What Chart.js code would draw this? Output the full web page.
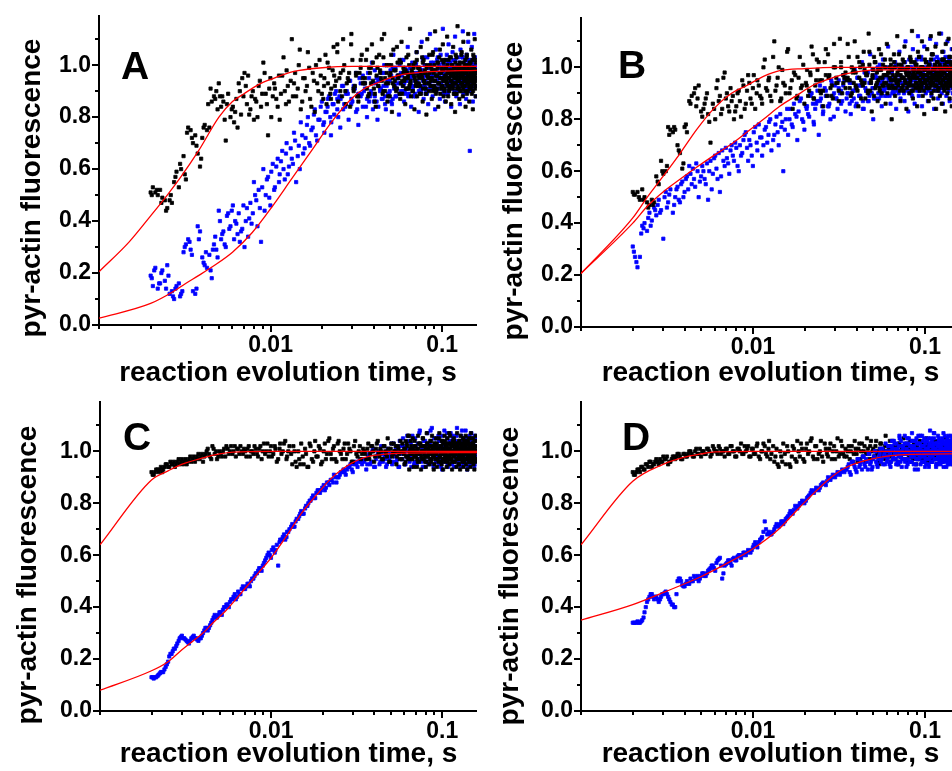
<!DOCTYPE html>
<html><head><meta charset="utf-8">
<script src="https://cdn.jsdelivr.net/npm/chart.js@4.4.1/dist/chart.umd.min.js"></script>
<style>
html,body{margin:0;padding:0;background:#fff;}
#wrap{position:relative;width:952px;height:771px;overflow:hidden;background:#fff;}
#wrap canvas{position:absolute;}
</style></head><body>
<div id="wrap">
<canvas id="cA" width="480" height="390" style="left:0;top:0"></canvas>
<canvas id="cB" width="483" height="390" style="left:480px;top:0"></canvas>
<canvas id="cC" width="480" height="386" style="left:0;top:385px"></canvas>
<canvas id="cD" width="483" height="386" style="left:480px;top:385px"></canvas>
</div>
<script>
// ---------- axis ticks ----------
const xTickValues = [0.001,0.002,0.003,0.004,0.005,0.006,0.007,0.008,0.009,0.01,0.02,0.03,0.04,0.05,0.06,0.07,0.08,0.09,0.1];
const xMajorValues = [0.01,0.1];
const xTickLabels = ['0.01','0.1'];
const yTickValues = [0,0.1,0.2,0.3,0.4,0.5,0.6,0.7,0.8,0.9,1.0,1.1];
const yMajorValues = [0,0.2,0.4,0.6,0.8,1.0];
const yTickLabels = ['0.0','0.2','0.4','0.6','0.8','1.0'];
const xTitle = 'reaction evolution time, s';
const yTitle = 'pyr-actin fluorescence';
const panelLetters = ['A','B','C','D'];

// ---------- shared reaction times (s) ----------
const tEarly = [0.002,0.00206,0.00213,0.0022,0.00227,0.00234,0.00242,0.0025,0.00258,0.00266,
0.00274,0.00283,0.00292,0.00301,0.00311,0.00321,0.00331,0.00342,0.00353,0.00364,
0.00376,0.00388,0.004,0.00413,0.00426,0.0044,0.00454,0.00468,0.00483,0.00499,
0.00515,0.00531,0.00548,0.00566,0.00584,0.00603,0.00622,0.00642,0.00662,0.00684,
0.00705,0.00728,0.00751,0.00775,0.008,0.00826,0.00852,0.0088,0.00908,0.00937,
0.00967,0.00998,0.0103,0.0106,0.011,0.0113,0.0117,0.0121,0.0124,0.0128,
0.0133,0.0137,0.0141,0.0146,0.015,0.0155,0.016,0.0165,0.017,0.0176,
0.0181,0.0187,0.0193,0.0199,0.0206,0.0212,0.0219,0.0226,0.0233,0.0241,
0.0248,0.0256,0.0265,0.0273,0.0282,0.0291,0.03,0.031,0.032,0.033,
0.034];
const tMid = [0.00203,0.0021,0.00217,0.00224,0.00231,0.00238,0.00246,0.00254,0.00262,0.0027,
0.00279,0.00288,0.00297,0.00306,0.00316,0.00326,0.00337,0.00348,0.00359,0.0037,
0.00382,0.00394,0.00407,0.0042,0.00433,0.00447,0.00461,0.00476,0.00491,0.00507,
0.00523,0.0054,0.00557,0.00575,0.00594,0.00613,0.00632,0.00652,0.00673,0.00695,
0.00717,0.0074,0.00763,0.00788,0.00813,0.00839,0.00866,0.00894,0.00923,0.00952,
0.00983,0.0101,0.0105,0.0108,0.0112,0.0115,0.0119,0.0123,0.0126,0.0131,
0.0135,0.0139,0.0144,0.0148,0.0153,0.0158,0.0163,0.0168,0.0173,0.0179,
0.0184,0.019,0.0196,0.0203,0.0209,0.0216,0.0223,0.023,0.0237,0.0245,
0.0252,0.0261,0.0269,0.0278,0.0287,0.0296,0.0305,0.0315,0.0325,0.0335,
0.0345];
const tDense = [0.0205,0.0215,0.0225,0.0235,0.0245,0.0255,0.0265,0.0275,0.0285,0.0295,
0.0305,0.0315,0.0325,0.0335,0.0345,0.0355,0.0365,0.0375,0.0385,0.0395,
0.0405,0.0415,0.0425,0.0435,0.0445,0.0455,0.0465,0.0475,0.0485,0.0495,
0.0505,0.0515,0.0525,0.0535,0.0545,0.0555,0.0565,0.0575,0.0585,0.0595];
const tLate = [0.035,0.036,0.037,0.038,0.039,0.040,0.041,0.042,0.043,0.044,
0.045,0.046,0.047,0.048,0.049,0.050,0.051,0.052,0.053,0.054,
0.055,0.056,0.057,0.058,0.059,0.060,0.061,0.062,0.063,0.064,
0.065,0.066,0.067,0.068,0.069,0.070,0.071,0.072,0.073,0.074,
0.075,0.076,0.077,0.078,0.079,0.080,0.081,0.082,0.083,0.084,
0.085,0.086,0.087,0.088,0.089,0.090,0.091,0.092,0.093,0.094,
0.095,0.096,0.097,0.098,0.099,0.100,0.101,0.102,0.103,0.104,
0.105,0.106,0.107,0.108,0.109,0.110,0.111,0.112,0.113,0.114,
0.115,0.116,0.117,0.118,0.119,0.120,0.121,0.122,0.123,0.124,
0.125,0.126,0.127,0.128,0.129,0.130,0.131,0.132,0.133,0.134,
0.135,0.136,0.137,0.138,0.139,0.140,0.141,0.142,0.143,0.144,
0.145,0.146,0.147,0.148,0.149,0.150,0.151,0.152,0.153,0.154,
0.155,0.156,0.157,0.158];
const tLateB = [0.0355,0.0365,0.0375,0.0385,0.0395,0.0405,0.0415,0.0425,0.0435,0.0445,
0.0455,0.0465,0.0475,0.0485,0.0495,0.0505,0.0515,0.0525,0.0535,0.0545,
0.0555,0.0565,0.0575,0.0585,0.0595,0.0605,0.0615,0.0625,0.0635,0.0645,
0.0655,0.0665,0.0675,0.0685,0.0695,0.0705,0.0715,0.0725,0.0735,0.0745,
0.0755,0.0765,0.0775,0.0785,0.0795,0.0805,0.0815,0.0825,0.0835,0.0845,
0.0855,0.0865,0.0875,0.0885,0.0895,0.0905,0.0915,0.0925,0.0935,0.0945,
0.0955,0.0965,0.0975,0.0985,0.0995,0.1005,0.1015,0.1025,0.1035,0.1045,
0.1055,0.1065,0.1075,0.1085,0.1095,0.1105,0.1115,0.1125,0.1135,0.1145,
0.1155,0.1165,0.1175,0.1185,0.1195,0.1205,0.1215,0.1225,0.1235,0.1245,
0.1255,0.1265,0.1275,0.1285,0.1295,0.1305,0.1315,0.1325,0.1335,0.1345,
0.1355,0.1365,0.1375,0.1385,0.1395,0.1405,0.1415,0.1425,0.1435,0.1445,
0.1455,0.1465,0.1475,0.1485,0.1495,0.1505,0.1515,0.1525,0.1535,0.1545,
0.1555,0.1565,0.1575];
const tLateC = [0.0602,0.0612,0.0622,0.0632,0.0642,0.0652,0.0662,0.0672,0.0682,0.0692,
0.0702,0.0712,0.0722,0.0732,0.0742,0.0752,0.0762,0.0772,0.0782,0.0792,
0.0802,0.0812,0.0822,0.0832,0.0842,0.0852,0.0862,0.0872,0.0882,0.0892,
0.0902,0.0912,0.0922,0.0932,0.0942,0.0952,0.0962,0.0972,0.0982,0.0992,
0.1002,0.1012,0.1022,0.1032,0.1042,0.1052,0.1062,0.1072,0.1082,0.1092,
0.1102,0.1112,0.1122,0.1132,0.1142,0.1152,0.1162,0.1172,0.1182,0.1192,
0.1202,0.1212,0.1222,0.1232,0.1242,0.1252,0.1262,0.1272,0.1282,0.1292,
0.1302,0.1312,0.1322,0.1332,0.1342,0.1352,0.1362,0.1372,0.1382,0.1392,
0.1402,0.1412,0.1422,0.1432,0.1442,0.1452,0.1462,0.1472,0.1482,0.1492,
0.1502,0.1512,0.1522,0.1532,0.1542,0.1552,0.1562,0.1572,0.1582,0.1592];

// ---------- panel A ----------
const aBlackEarly = [.51,.53,.51,.50,.52,.49,.48,.45,.48,.47,
.55,.59,.53,.60,.65,.56,.76,.75,.70,.73,
.66,.61,.72,.77,.75,.76,.86,.88,.90,.93,
.84,.86,.71,.89,.80,.84,.82,.76,.90,.95,
.97,.85,.81,.88,.79,.86,.92,.84,1.01,.89,
.73,.95,.88,.91,.84,.79,.96,.90,.98,.86,
1.10,.93,.88,1.0,.83,.95,.90,1.05,.87,.97,
.82,.93,1.02,.89,.95,.85,.99,.91,1.07,.94,
.86,.97,1.1,.90,.95,.84,1.02,.92,.88,.97,
1.04];
const aBlackMid = [.50,null,.52,null,.47,null,.44,null,.50,null,
.57,null,.62,null,.58,.74,null,.72,null,.69,
null,.64,.76,null,.85,.91,null,.87,.83,.88,
.88,.79,.85,null,.83,.78,.87,.93,.81,.88,
.92,.96,.83,.90,.87,.80,.94,.89,.97,.85,
.91,.80,.93,.87,.96,.89,1.03,.85,.92,.94,
.88,.97,.91,1.06,.86,.95,.92,.99,.84,.94,
1.0,.90,.96,.87,1.04,.93,.89,.98,.92,1.08,
.95,.88,1.0,.93,.97,1.12,.90,.96,.86,.99,
.93];
const aBlackDense = [.92,1.01,.87,.96,1.05,.90,.98,.85,.94,1.08,
.91,.97,.88,1.02,.95,.93,1.06,.89,.99,.94,
.86,1.03,.92,.97,1.1,.90,.95,1.0,.88,.96,
1.04,.93,.98,.91,1.07,.95,.89,1.01,.94,.97];
const aBlueEarly = [.19,.15,.22,.14,.16,.21,.17,.23,.12,.13,
.10,.15,.16,.12,.28,.31,.33,.29,.13,.12,
.38,.36,.26,.23,.22,.27,.18,.31,.29,.44,
.33,.36,.30,.43,.38,.46,.40,.35,.32,.37,
.30,.45,.41,.39,.55,.48,.52,.32,.60,.50,
.57,.46,.62,.53,.64,.58,.67,.56,.70,.61,
.64,.74,.55,.69,.78,.66,.72,.80,.69,.76,
.83,.71,.79,.86,.74,.82,.88,.78,.85,.90,
.80,.87,.92,.84,.89,.94,.86,.91,.83,.95,
.89];
const aBlueMid = [.18,.21,null,.16,.20,null,.14,.19,null,.11,
.14,null,.11,.13,.30,null,.32,.27,null,.14,
.33,null,.24,.28,null,.21,.29,.34,.26,.40,
.35,.31,.42,.37,.44,.33,.39,.43,.36,.46,
.40,.34,.47,.43,.50,.38,.45,.53,.44,.56,
.49,.59,.52,.61,.55,.63,.60,.66,.58,.68,
.62,.71,.65,.60,.73,.68,.77,.70,.75,.81,
.73,.79,.84,.77,.82,.87,.80,.85,.89,.83,
.88,.92,.85,.90,.94,.87,.92,.97,.89,.93,
.96];
const aBlueDense = [.78,.84,.73,.81,.87,.76,.83,.89,.79,.85,
.91,.82,.77,.88,.84,.93,.80,.86,.90,.83,
.88,.95,.84,.91,.87,.97,.85,.92,.89,.94,
.86,.99,.91,.88,.95,.93,1.0,.90,.96,.92];
const aBlackLate = [.93,1.02,.88,.97,1.08,.91,.84,.99,1.04,.95,
.89,1.12,.93,.86,1.0,.97,.82,1.06,.94,.90,
1.01,.96,.87,1.09,.92,.98,.85,1.03,.95,.91,
1.14,.88,.97,1.0,.83,.94,1.05,.92,.99,.89,
1.07,.96,.86,1.02,.93,.97,.81,1.1,.95,.90,
1.0,.94,.87,1.04,.98,.92,1.13,.89,.96,1.01,
.84,.93,1.06,.97,.91,.99,1.08,.88,.95,1.02,
.86,.94,1.11,.92,.98,.9,1.03,.96,.85,1.0,
.93,1.07,.89,.97,.82,1.04,.95,.91,1.15,.94,
.99,.87,1.01,.96,.9,1.05,.93,.88,1.09,.97,
.92,1.0,.84,.95,1.03,.98,.9,1.12,.94,.86,
1.01,.96,.92,1.06,.89,.99,.83,1.04,.95,.97,
1.1,.91,.88,1.02];
const aBlackLateB = [.95,.91,.99,.93,1.01,.89,.96,.92,.98,.94,
1.03,.90,.97,.93,.88,1.0,.95,.92,.98,.91,
.96,1.02,.93,.89,.99,.95,.91,.97,1.04,.92,
.94,.98,.90,.96,1.01,.93,.88,.99,.95,.92,
.97,1.03,.91,.94,.98,.89,1.0,.96,.93,.97,
.92,.99,.95,1.05,.91,.94,.98,.90,.96,1.01,
.93,.97,.89,.95,1.02,.92,.98,.94,.91,.99,
.96,.93,1.0,.88,.95,.97,.92,1.03,.94,.98,
.91,.96,.99,.93,1.01,.95,.89,.97,.92,1.0,
.94,.98,.90,.96,1.04,.93,.97,.91,.95,.99,
.92,1.02,.94,.97,.89,.96,1.0,.93,.98,.91,
.95,1.01,.92,.97,.94,.99,.90,.96,1.03,.93,
.98,.94,.96];
const aBlackLateC = [.94,.98,.91,.96,1.0,.93,.97,.90,.99,.95,
.92,1.02,.96,.93,.98,.89,.95,1.01,.94,.97,
.91,.99,.96,.93,1.04,.95,.92,.98,.90,.97,
1.0,.94,.96,.91,.99,.93,1.03,.95,.97,.92,
.98,.94,1.01,.90,.96,.99,.93,.97,.95,1.02,
.91,.98,.94,.96,1.0,.92,.97,.95,.89,.99,
.93,1.03,.96,.94,.98,.91,1.0,.95,.97,.93,
.99,.92,.96,1.01,.94,.98,.90,.97,.95,1.04,
.93,.99,.96,.92,1.0,.94,.97,.91,.98,.95,
1.02,.93,.96,.99,.94,.97,.92,1.01,.95,.98];
const aBlueLate = [.90,.84,.97,.88,1.01,.86,.93,.79,.95,.91,
.87,1.0,.83,.94,.89,.98,.85,1.04,.92,.88,
.96,.81,.93,1.02,.90,.86,.99,.94,1.07,.89,
.95,.84,1.01,.92,.97,.88,1.05,.93,.82,.99,
.91,1.09,.95,.87,1.0,.94,.9,1.03,.85,.97,
1.12,.92,.96,.88,1.01,.94,.83,1.06,.98,.91,
.95,1.0,.87,1.04,.93,.97,1.14,.9,.96,.86,
1.02,.94,.99,.89,1.08,.95,.92,1.01,.84,.97,
1.05,.93,.98,.9,1.11,.96,.88,1.0,.94,1.03,
.91,.97,.85,1.06,.95,.99,.92,1.13,.89,.96,
1.01,.93,.98,.87,1.04,.95,.91,1.09,.97,.94,
.67,1.02,.9,.98,1.07,.93,.86,1.0,.96,1.12,
.92,.99,.88,1.03];
const aBlueLateB = [.91,.87,.95,.89,.93,.98,.86,.94,.90,.97,
.92,.88,1.0,.94,.90,.96,.87,.93,.99,.91,
.95,.89,.97,.93,1.02,.90,.94,.98,.88,.96,
.93,.99,.91,.95,.89,1.01,.94,.97,.92,.96,
.90,.98,.94,1.03,.92,.96,.89,.99,.95,.93,
.97,.91,1.0,.94,.98,.92,.96,.90,1.02,.95,
.93,.99,.91,.97,.95,1.01,.89,.96,.94,.98,
.92,1.04,.95,.90,.97,.93,.99,.96,.91,1.0,
.94,.98,.92,.96,1.02,.93,.97,.90,.99,.95,
.91,1.01,.96,.94,.98,.92,1.03,.95,.97,.93,
.99,.91,.96,1.0,.94,.98,.92,1.02,.95,.97,
.93,.99,.96,.91,1.01,.94,.98,.95,1.03,.92,
.97,.95,.99];
const aBlueLateC = [.93,.89,.97,.91,.95,.99,.92,.96,.88,.94,
1.0,.93,.97,.90,.95,.98,.92,1.02,.94,.96,
.89,.97,.93,.99,.91,.95,1.01,.94,.97,.92,
.96,.90,.98,.94,1.03,.93,.96,.91,.99,.95,
.92,.97,1.0,.94,.89,.96,.98,.93,1.01,.95,
.91,.97,.94,.99,.92,.96,1.02,.93,.98,.90,
.95,.99,.94,.97,.91,1.0,.96,.93,.98,.95,
.92,1.03,.97,.94,.99,.91,.96,1.0,.93,.97,
.95,.92,.98,1.01,.94,.96,.90,.99,.95,.97,
.93,1.02,.96,.94,.98,.92,1.0,.95,.97,.99];
const aFitBlack = [[0.001,.205],[0.0015,.32],[0.002,.42],[0.0025,.50],[0.003,.57],[0.0038,.67],[0.005,.80],[0.006,.86],[0.007,.89],[0.0085,.925],[0.01,.945],[0.0135,.975],[0.02,.99],[0.03,.995],[0.16,.995]];
const aFitBlue = [[0.001,.026],[0.002,.083],[0.0027,.128],[0.0032,.16],[0.0038,.19],[0.0046,.225],[0.006,.28],[0.0078,.355],[0.0102,.455],[0.0132,.56],[0.0173,.67],[0.0226,.78],[0.0295,.87],[0.0353,.91],[0.045,.94],[0.055,.96],[0.085,.975],[0.16,.98]];

// ---------- panel B ----------
const bBlackEarly = [.52,.51,.52,.49,.53,.50,.48,.47,.49,.48,
.58,.55,.64,.59,.60,.77,.76,.75,.76,.70,
.67,.61,.77,.75,.87,.89,.90,.85,.93,.83,
.84,.88,.82,.71,.86,.80,.95,.89,.84,.98,
.90,.83,.87,.80,.85,.91,.81,.93,.86,.97,
.88,.92,.84,.95,.89,.86,1.03,.91,.96,.87,
1.10,.93,1.0,.88,.94,.90,1.07,.92,.84,.97,
.89,1.04,.93,.86,.99,.91,1.08,.88,.95,1.02,
.90,.85,.97,1.05,.92,.88,1.0,.94,1.11,.90,
.96];
const bBlackMid = [.51,null,.50,null,.49,null,.46,null,.47,null,
.56,null,.60,null,.62,.74,null,.77,null,.68,
null,.63,.78,null,.86,null,.92,.88,null,.81,
.86,.90,.79,null,.84,.92,.87,.82,.96,.88,
.85,.92,.89,.83,.90,.87,.95,.84,.91,.94,
.86,.97,.90,.93,.88,1.0,.92,.95,.89,1.04,
.91,.96,.87,.99,.93,1.06,.90,.95,.98,.88,
.96,.92,1.01,.94,.89,.97,1.05,.93,.99,.91,
.95,1.02,.89,.97,.93,1.09,.96,.91,1.0,.94,
.98];
const bBlackDense = [.93,.98,.88,1.03,.95,.91,1.07,.96,.89,1.0,
.94,.87,1.02,.97,.92,1.09,.95,.90,.99,.93,
1.04,.96,.88,1.01,.94,.98,.91,1.06,.95,.97,
.89,1.02,.94,.99,.92,1.05,.96,.93,1.0,.97];
const bBlueEarly = [.31,.27,.23,.27,.39,.40,.37,.44,.41,.46,
.43,.49,.45,.34,.52,.48,.53,.44,.50,.54,
.48,.56,.52,.58,.62,.55,.57,.63,.50,.58,
.60,.55,.49,.64,.59,.66,.57,.52,.68,.62,
.65,.59,.70,.64,.69,.60,.66,.72,.75,.64,
.70,.62,.77,.68,.73,.66,.76,.71,.79,.68,
.74,.81,.70,.77,.60,.80,.74,.84,.77,.82,
.72,.87,.80,.76,.85,.81,.90,.78,.86,.74,
.88,.83,.91,.85,.80,.89,.93,.84,.90,.87,
.95];
const bBlueMid = [.29,.25,null,.36,.38,null,.42,.39,null,.45,
.47,.44,null,.50,.46,.51,null,.47,.53,.49,
.55,.50,.57,.53,.59,.61,.54,.60,.56,.62,
.57,.63,.60,.53,.65,.61,.67,.58,.64,.69,
.63,.68,.66,.71,.62,.70,.67,.74,.69,.72,
.66,.75,.71,.78,.73,.70,.77,.74,.80,.72,
.78,.75,.82,.79,.76,.84,.80,.78,.86,.81,
.83,.88,.79,.85,.82,.89,.86,.84,.91,.87,
.85,.92,.89,.86,.94,.90,.88,.95,.91,.93,
.96];
const bBlueDense = [.84,.90,.79,.87,.93,.82,.89,.85,.95,.81,
.88,.92,.86,.97,.83,.90,.94,.87,.91,.85,
.96,.89,.93,.84,.98,.91,.87,.94,.90,.99,
.92,.88,.96,.93,1.01,.89,.95,.92,.97,.94];
const bBlackLate = [.95,1.04,.89,.98,1.1,.92,.85,1.0,.94,1.06,
.88,.97,1.13,.91,.83,.99,1.02,.93,.87,1.07,
.96,.9,1.01,.94,.86,1.09,.98,.92,1.03,.8,
.97,1.05,.89,.95,1.12,.93,.99,.87,1.01,.96,
.91,1.08,.94,.84,1.0,.97,.9,1.04,.93,1.14,
.88,.98,1.02,.92,.96,.85,1.06,.99,.91,1.0,
.94,1.1,.89,.97,.82,1.03,.95,.92,1.07,.98,
.87,1.01,.94,1.12,.9,.96,1.05,.88,.99,.93,
1.08,.84,.97,1.02,.91,.95,1.13,.89,1.0,.94,
.86,1.06,.98,.92,1.03,.96,.83,1.09,.93,1.0,
.9,.97,1.11,.94,.88,1.04,.95,.99,.85,1.02,
.96,1.07,.91,.98,1.0,.93,1.14,.89,.97,1.05,
.92,.87,1.01,.95];
const bBlackLateB = [.96,.92,1.0,.94,.98,.91,1.02,.95,.93,.99,
.97,.90,1.01,.94,.96,1.04,.92,.98,.95,.91,
.99,.93,.97,1.03,.94,.90,.98,.96,1.01,.93,
.95,1.0,.92,.97,.94,1.05,.91,.99,.96,.93,
1.02,.95,.98,.92,1.0,.96,.94,1.03,.91,.97,
.99,.93,.96,1.01,.94,.98,.92,1.04,.95,.97,
.93,1.0,.96,.91,.99,.94,1.02,.97,.95,.92,
1.01,.96,.98,.93,1.05,.94,.99,.91,.97,1.0,
.95,.93,1.02,.96,.92,.98,1.01,.94,.97,.99,
.93,1.03,.95,.98,.91,1.0,.96,.94,1.02,.97,
.92,.99,.95,1.04,.93,.98,.96,1.01,.94,.97,
1.0,.92,.98,.95,1.03,.93,.99,.96,.91,1.01,
.97,.94,.99];
const bBlackLateC = [.97,.93,1.0,.95,.99,.92,1.02,.96,.94,.98,
1.01,.95,.97,.92,1.03,.96,.99,.94,.97,1.0,
.93,.98,.95,1.02,.96,.91,.99,.97,.94,1.01,
.96,.93,1.04,.95,.98,.92,1.0,.97,.94,.99,
.95,1.02,.93,.97,1.0,.96,.92,.98,1.03,.95,
.97,.94,.99,.96,1.01,.93,.98,.95,1.02,.97,
.92,1.0,.96,.94,.99,.97,1.03,.95,.93,.98,
1.01,.96,.94,1.0,.97,.92,.99,.95,1.02,.96,
.98,.93,1.01,.97,.95,.99,.94,1.03,.96,.98,
.92,1.0,.97,.95,1.02,.94,.99,.96,.98,1.01];
const bBlueLate = [.88,.95,.82,.91,.99,.86,.93,.89,1.02,.84,
.92,.97,.87,1.05,.9,.8,.96,.93,1.0,.88,
.94,.85,1.03,.91,.97,.89,1.08,.93,.86,.99,
.95,.9,1.02,.84,.97,.92,1.06,.88,.96,1.0,
.91,.87,1.1,.94,.99,.83,1.03,.95,.9,.98,
1.07,.93,.86,1.01,.96,.91,1.12,.89,.97,.94,
1.04,.85,.99,.92,1.08,.95,.9,1.02,.97,.87,
1.0,.93,1.11,.96,.89,1.05,.94,.98,.84,1.01,
.95,1.09,.91,.97,.88,1.03,.96,1.0,.92,1.13,
.9,.98,.86,1.06,.94,.99,.93,1.02,.89,.97,
1.1,.95,.91,1.04,.87,.98,1.0,.93,1.07,.96,
.9,1.01,.95,.85,1.08,.97,.92,1.03,.94,.99,
1.11,.91,.96,1.0];
const bBlueLateB = [.90,.86,.94,.88,.92,.96,.89,.93,.87,.95,
.91,.98,.89,.94,.92,.88,.97,.93,.90,.99,
.94,.91,.96,.89,1.0,.93,.95,.92,.98,.90,
.96,.93,1.01,.91,.95,.97,.92,.99,.94,.96,
.90,1.02,.95,.93,.98,.91,.97,.94,1.0,.96,
.92,.99,.95,.93,1.03,.94,.97,.91,.98,.96,
1.0,.93,.95,.99,.92,.97,1.02,.94,.96,.91,
.98,.95,1.01,.93,.97,.99,.94,1.03,.96,.92,
.98,.95,1.0,.93,.97,.91,.99,.96,1.02,.94,
.97,.92,1.0,.95,.98,.93,1.04,.96,.94,.99,
.95,1.01,.93,.97,.96,1.02,.94,.98,.92,1.0,
.96,.99,.93,1.03,.95,.97,.94,1.01,.98,.95,
1.0,.96,.93];
const bBlueLateC = [.92,.96,.89,.94,.98,.91,.95,1.0,.93,.97,
.90,.99,.94,.96,.92,1.02,.95,.91,.98,.94,
.97,.93,1.0,.95,.89,.98,.96,.92,1.01,.94,
.96,.99,.93,.97,.91,1.03,.95,.98,.94,.96,
1.0,.92,.97,.95,.99,.93,1.02,.96,.94,.98,
.91,.97,1.0,.95,.93,.99,.96,1.04,.94,.97,
.92,.98,.95,1.01,.96,.93,.99,.97,.94,1.02,
.95,.98,.92,1.0,.96,.94,.99,.97,1.03,.95,
.93,.98,.96,1.01,.94,.97,1.0,.92,.98,.95,
.99,.96,1.02,.94,.97,.93,1.0,.96,.98,.95];
const bFitBlack = [[0.001,.206],[0.002,.42],[0.00243,.50],[0.003,.58],[0.00378,.67],[0.0047,.76],[0.0059,.84],[0.0075,.90],[0.0092,.93],[0.0115,.965],[0.0143,.987],[0.02,.995],[0.03,1.0],[0.16,1.0]];
const bFitBlue = [[0.001,.206],[0.002,.40],[0.00243,.465],[0.003,.52],[0.00378,.57],[0.0047,.615],[0.0059,.66],[0.0075,.705],[0.0092,.75],[0.0115,.80],[0.0143,.85],[0.0178,.89],[0.0222,.93],[0.0275,.955],[0.0346,.975],[0.0537,.99],[0.16,.99]];

// ---------- panel C ----------
const cBlackEarly = [.92,.91,.93,.92,.94,.93,.95,.94,.96,.95,
.94,.96,.95,.97,.96,.95,.97,.96,.98,.97,
.99,.98,.96,.99,1.01,.98,1.02,.99,.97,1.0,
.98,1.01,1.02,.99,1.02,1.0,.98,1.01,1.02,.99,
1.0,1.01,.98,1.0,1.02,.99,1.01,.97,1.03,1.0,
.98,1.02,.99,1.01,.97,1.03,1.0,1.04,.98,1.02,
.95,1.0,.94,.97,1.03,.95,.99,.94,1.02,.96,
1.04,.98,1.01,.96,1.03,.99,1.05,.97,1.02,.96,
1.04,.99,1.01,.97,1.03,1.0,.96,1.04,.98,1.02,
.99];
const cBlackMid = [.91,.92,.93,.93,.92,.94,.95,.94,.95,.96,
.95,.97,.96,.95,.97,.96,.98,.97,.96,.98,
.97,.99,.98,1.0,.99,.97,1.01,1.0,.98,.99,
1.0,.98,1.01,1.0,.99,1.02,1.01,.99,1.0,1.01,
.98,1.02,1.0,.99,1.01,.98,1.02,1.0,.99,1.03,
1.0,.98,1.02,.96,1.01,.99,1.03,.97,1.0,.99,
1.02,.96,1.0,.95,.98,1.01,.94,1.03,.97,1.0,
.98,1.02,.95,1.0,.97,1.04,.99,1.01,.97,1.03,
1.0,.97,1.03,.99,1.01,.96,1.02,.99,1.0,.97,
1.01];
const cBlueEarly = [.13,.125,.13,.14,.15,.15,.17,.19,.22,.23,
.24,.26,.28,.29,.28,.27,.26,.28,.29,.28,
.27,.28,.30,.32,.31,.33,.35,.37,.36,.38,
.37,.40,.41,.40,.43,.44,.43,.46,.45,.48,
.47,.49,.48,.51,.52,.53,.55,.54,.57,.59,
.61,.59,.63,.62,.56,.66,.67,.66,.69,.70,
.72,.71,.74,.75,.77,.76,.79,.80,.81,.83,
.82,.85,.84,.86,.85,.88,.87,.89,.91,.88,
.90,.92,.93,.91,.94,.95,.92,.96,.94,.97,
.95];
const cBlueMid = [.13,.13,.135,.145,.15,.16,.18,.21,.22,.24,
.25,.27,.285,.28,.275,.265,.27,.285,.28,.275,
.28,.29,.31,.32,.32,.34,.36,.36,.37,.38,
.39,.40,.41,.42,.43,.45,.44,.45,.47,.47,
.48,.49,.50,.51,.53,.54,.55,.56,.58,.60,
.60,.62,.61,.64,.65,.66,.68,.67,.69,.71,
.71,.73,.74,.76,.76,.78,.79,.81,.82,.82,
.84,.85,.85,.87,.86,.88,.89,.88,.90,.90,
.91,.92,.92,.93,.94,.93,.95,.95,.96,.96,
.97];
const cBlackLate = [1.0,.97,1.03,.99,1.02,.96,1.01,1.04,.98,1.0,
.97,1.02,.99,1.05,.96,1.01,.98,1.03,1.0,.95,
1.02,.99,1.04,.97,1.0,1.01,.96,1.03,.98,1.06,
.99,1.02,.97,1.0,1.04,.98,1.01,.96,1.03,.99,
1.02,.97,1.05,1.0,.98,1.01,.96,1.03,.99,1.02,
.97,1.04,1.0,.98,1.02,.95,1.01,.99,1.03,.97,
1.0,1.05,.98,1.02,.96,1.01,1.03,.99,.97,1.04,
1.0,.98,1.02,.96,1.01,1.07,.99,1.03,.97,1.0,
1.02,.98,1.04,.96,1.01,.99,1.03,.97,1.02,1.0,
.95,1.04,.99,1.01,.97,1.03,1.0,.98,1.05,.96,
1.02,.99,1.01,.97,1.04,1.0,.98,1.03,.96,1.01,
.99,1.02,.97,1.05,1.0,.98,1.03,.96,1.01,.99,
1.04,.97,1.02,1.0];
const cBlackLateB = [.99,1.01,.97,1.02,1.0,.98,1.03,.99,1.01,.97,
1.02,1.0,.98,1.01,.96,1.03,.99,1.0,1.02,.98,
1.01,.97,1.0,1.03,.99,1.01,.98,1.02,.97,1.0,
1.04,.99,1.01,.98,1.02,1.0,.97,1.01,.99,1.03,
.98,1.0,1.02,.99,.96,1.01,1.03,.98,1.0,.99,
1.02,.97,1.01,1.0,.98,1.03,.99,1.02,.97,1.01,
1.0,.98,1.02,.99,1.04,.97,1.0,1.01,.98,1.02,
.99,1.01,.97,1.03,1.0,.98,1.01,.99,1.02,.96,
1.0,1.03,.98,1.01,.99,1.02,.97,1.0,1.01,.98,
1.03,.99,1.0,.97,1.02,1.01,.98,1.0,.99,1.04,
.97,1.01,1.02,.99,1.0,.98,1.03,.97,1.01,1.0,
.99,1.02,.98,1.01,.96,1.0,1.03,.99,1.02,.98,
1.01,.97,1.0];
const cBlackLateC = [.95,1.04,.98,1.06,.93,1.01,.97,1.05,.94,1.02,
.99,.94,1.06,.96,1.03,.93,1.0,1.05,.97,1.02,
.94,1.07,.98,1.01,.95,1.04,.96,1.06,.99,.93,
1.03,.97,1.05,.94,1.01,.96,1.07,.98,1.02,.95,
1.04,.93,1.0,1.06,.96,1.03,.94,1.05,.98,1.01,
.95,1.06,.97,1.02,.93,1.04,.99,1.05,.96,1.0,
1.03,.94,1.07,.97,1.01,.95,1.04,.93,1.06,.98,
1.02,.96,1.05,.94,1.0,1.03,.97,1.06,.95,1.01,
.93,1.04,.98,1.05,.96,1.02,.94,1.07,.97,1.03,
.99,1.05,.95,1.01,.93,1.04,.97,1.06,.96,1.0];
const cBlueLate = [.96,.93,.98,.95,1.0,.94,.97,.99,.95,1.02,
.96,.98,.94,1.01,.97,.99,.95,1.03,.98,.96,
1.0,.94,1.02,.97,1.05,.99,.95,1.01,.97,1.04,
.98,.94,1.06,1.0,.96,1.02,.95,1.03,.99,1.08,
.97,1.01,.94,1.04,.99,.96,1.02,1.07,.95,1.0,
1.03,.97,1.09,.99,.94,1.05,1.0,.96,1.02,.98,
1.06,.95,1.01,1.04,.97,.93,1.03,.99,1.08,.96,
1.01,.98,1.05,.94,1.0,1.03,.97,1.07,.99,.95,
1.02,1.06,.96,1.0,.94,1.04,.98,1.09,1.01,.96,
.97,1.03,1.0,.94,1.06,.98,1.02,.95,1.04,.99,
1.01,.96,1.08,.97,1.03,.93,1.0,1.05,.98,1.02,
.95,1.04,.99,1.07,.96,1.01,.97,1.03,1.0,.94,
1.06,.98,1.02,.99];
const cBlueLateB = [.97,.95,.99,.96,1.01,.94,.98,1.0,.96,.99,
1.02,.97,.95,1.0,.98,1.03,.96,.99,1.01,.97,
.94,1.04,.99,.97,1.02,.95,1.0,1.06,.98,.96,
1.03,.99,1.01,.95,1.05,.98,1.0,.97,1.07,.99,
.96,1.02,1.0,.94,1.04,.98,1.01,.96,1.03,.99,
1.08,.97,1.0,.95,1.02,1.05,.98,.96,1.01,.99,
1.04,.97,1.0,.94,1.06,.99,1.02,.96,1.03,.98,
1.0,1.07,.95,1.01,.98,1.04,.97,1.0,1.02,.96,
1.05,.99,.94,1.03,1.0,.97,1.06,.98,1.01,.95,
1.02,.99,1.04,.97,1.0,1.08,.96,1.02,.98,1.01,
.95,1.03,.99,1.05,.97,1.0,.94,1.02,.98,1.06,
1.0,.96,1.03,.99,1.01,.97,1.04,.98,1.0,.95,
1.02,.99,1.05];
const cFitBlack = [[0.001,.64],[0.002,.89],[0.0025,.925],[0.003,.95],[0.004,.975],[0.005,.99],[0.006,.997],[0.01,1.0],[0.16,1.0]];
const cFitBlue = [[0.001,.08],[0.002,.155],[0.0025,.19],[0.003,.235],[0.0035,.27],[0.004,.30],[0.0045,.335],[0.0055,.39],[0.007,.47],[0.0085,.535],[0.01,.59],[0.0125,.68],[0.015,.76],[0.0186,.835],[0.022,.89],[0.0265,.935],[0.0346,.975],[0.045,.988],[0.06,.993],[0.16,.995]];

// ---------- panel D ----------
const dBlackEarly = [.92,.91,.93,.92,.94,.93,.95,.96,.94,.95,
.97,.95,.96,.98,.97,.95,.96,.98,.97,.99,
.98,.97,.99,.98,1.0,.99,.98,1.01,.99,.98,
1.0,.99,1.01,.98,1.02,1.0,.99,1.01,1.0,.98,
1.01,.99,1.02,1.0,.98,1.01,1.03,.99,1.0,1.02,
.98,1.01,.99,1.03,.97,1.0,1.02,.98,1.04,.99,
.96,1.01,.94,.98,1.03,.95,1.0,.94,1.02,.97,
1.04,.98,1.01,.96,1.03,1.0,1.05,.97,1.02,.99,
1.04,.96,1.01,.98,1.03,1.0,.97,1.05,.99,1.02,
.98];
const dBlackMid = [.91,.92,.93,.94,.93,.95,.94,.96,.95,.96,
.96,.97,.96,.97,.98,.96,.97,.98,.98,.99,
.97,.99,.98,.99,1.0,.98,1.0,.99,1.01,1.0,
.99,1.01,1.0,.99,1.01,1.0,1.02,.99,1.0,1.01,
.99,1.02,1.0,.98,1.01,1.0,.99,1.02,1.01,.98,
1.01,.99,1.02,.98,1.0,1.03,.99,1.01,.97,1.02,
.98,.95,1.0,.96,.99,1.02,.95,.98,1.01,.96,
1.0,1.03,.97,1.01,.99,1.04,.98,1.02,.97,1.0,
.98,1.03,.99,1.01,.97,1.02,1.0,.98,1.04,.99,
1.01];
const dBlueEarly = [.34,.34,.345,.34,.35,.38,.42,.44,.45,.43,
.44,.42,.44,.45,.46,.44,.42,.41,.40,.50,
.51,.485,.48,.50,.49,.50,.52,.51,.50,.52,
.53,.52,.54,.55,.56,.54,.58,.59,.51,.56,
.57,.58,.56,.59,.58,.60,.59,.61,.60,.62,
.61,.63,.65,.63,.66,.67,.73,.68,.69,.68,
.70,.72,.71,.73,.72,.74,.75,.77,.76,.79,
.78,.80,.81,.80,.82,.83,.85,.84,.86,.85,
.87,.88,.87,.90,.89,.91,.90,.92,.91,.93,
.92];
const dBlueMid = [.34,.34,.34,.345,.36,.40,.43,.45,.44,.44,
.43,.43,.45,.455,.45,.43,.41,.40,.45,.51,
.50,.48,.49,.49,.51,.50,.51,.52,.51,.53,
.52,.53,.545,.56,.55,.57,.585,.56,.53,.565,
.58,.57,.585,.58,.595,.60,.60,.61,.61,.615,
.62,.64,.64,.65,.665,.69,.70,.685,.68,.69,
.71,.715,.72,.73,.73,.745,.76,.765,.775,.785,
.79,.80,.805,.81,.825,.84,.845,.85,.855,.86,
.875,.875,.885,.895,.90,.905,.91,.915,.92,.925,
.93];
const dBlackLate = [.98,1.02,1.0,.96,1.04,.99,1.01,.97,1.03,1.0,
.96,1.05,.99,1.02,.97,1.01,.98,1.04,1.0,.95,
1.03,.99,1.01,.97,1.06,1.0,.98,1.02,.96,1.01,
1.04,.99,.97,1.02,1.0,.95,1.03,.98,1.01,.99,
1.05,.97,1.0,1.02,.96,1.01,.99,1.04,.98,1.0,
.97,1.03,.99,1.01,.95,1.02,1.0,.98,1.04,.97,
1.01,.99,1.03,.96,1.0,1.02,.98,1.05,.99,1.01,
.97,1.03,1.0,.96,1.02,.99,1.04,.98,1.01,.97,
1.03,1.0,.95,1.02,.99,1.01,.97,1.04,1.0,.98,
1.02,.96,1.01,1.03,.99,.97,1.05,1.0,.98,1.02,
.99,1.01,.96,1.04,1.0,.98,1.03,.97,1.01,.99,
1.02,.95,1.0,1.03,.98,1.01,.97,1.04,.99,1.0,
.96,1.02,.99,1.01];
const dBlackLateB = [1.0,.97,1.02,.99,1.01,.96,1.03,1.0,.98,1.02,
.99,1.01,.97,1.04,1.0,.98,1.02,.99,.96,1.01,
1.03,.98,1.0,1.02,.97,.99,1.01,1.04,.98,1.0,
.97,1.02,.99,1.01,.96,1.03,1.0,.98,1.02,.99,
1.01,.97,1.0,1.03,.99,.98,1.02,1.0,.96,1.01,
.99,1.03,.98,1.0,1.02,.97,1.01,.99,1.04,.98,
1.0,.97,1.02,.99,1.01,.98,1.03,1.0,.96,1.02,
.99,1.01,.98,1.0,1.03,.97,1.01,.99,1.02,.98,
1.0,1.04,.97,1.01,.99,1.02,.98,1.0,.96,1.03,
.99,1.01,.98,1.02,1.0,.97,1.01,1.03,.99,.98,
1.02,1.0,.97,1.01,.99,1.04,.98,1.0,1.02,.97,
1.01,.99,1.03,.98,1.0,.96,1.02,.99,1.01,.98,
1.0,1.03,.99];
const dBlueLate = [.93,.95,.91,.96,.94,.92,.97,.95,.93,.98,
.94,.96,.99,.95,.93,.97,1.0,.96,.94,.98,
1.01,.97,.95,.99,1.03,.96,.98,1.0,.94,1.02,
.97,1.04,.99,.95,1.01,.98,1.06,.96,1.0,1.02,
.97,1.03,.99,.94,1.05,1.0,.96,1.02,.98,1.07,
.99,.95,1.01,1.04,.97,1.0,.93,1.03,.98,1.06,
1.0,.96,1.02,.99,1.05,.94,1.01,.97,1.04,.99,
.95,1.02,1.08,.98,1.0,.96,1.03,.99,1.05,.97,
1.01,.94,1.03,.99,1.06,.97,1.0,1.02,.95,1.04,
.98,1.01,.96,1.07,.99,1.03,.97,1.0,.94,1.02,
1.05,.98,1.01,.96,1.03,1.0,.97,1.06,.99,1.02,
.95,1.04,1.0,.97,1.02,.99,1.05,.96,1.01,.98,
1.03,.97,1.0,1.02];
const dBlueLateB = [.94,.92,.96,.95,.93,.97,.94,.96,.98,.95,
.97,.93,.99,.96,.94,.98,1.0,.95,.97,.99,
.96,1.01,.98,.95,1.0,.97,1.02,.99,.96,1.01,
.98,1.03,.97,1.0,.95,1.02,.99,1.04,.97,1.01,
.99,.96,1.03,1.0,.97,1.05,.99,1.02,.96,1.01,
1.04,.98,1.0,.95,1.03,.99,1.06,.97,1.01,.98,
1.02,.96,1.04,1.0,.98,1.03,.95,1.01,.99,1.05,
.97,1.02,1.0,.96,1.04,.98,1.01,1.07,.99,.97,
1.03,1.0,.95,1.02,.98,1.05,1.0,.97,1.03,.99,
1.01,.96,1.04,.98,1.0,1.06,.97,1.02,.99,1.03,
.95,1.01,.98,1.04,1.0,.97,1.02,.99,1.05,.96,
1.01,.98,1.03,1.0,.97,1.02,.99,1.04,.98,1.01,
.96,1.03,1.0];
const dBlueLateC = [.98,1.02,.95,1.0,1.04,.97,1.01,.99,1.03,.96,
1.0,1.05,.98,.94,1.02,.99,1.06,.97,1.01,.95,
1.03,.99,1.0,.96,1.04,.98,1.02,.93,1.0,1.05,
.97,1.01,.99,1.03,.95,1.0,1.06,.98,1.02,.96,
1.0,.97,1.04,.99,1.01,.94,1.03,.98,1.05,1.0,
.96,1.02,.99,1.07,.97,1.01,.95,1.03,1.0,.98,
1.04,.96,1.01,.99,1.02,.97,1.05,1.0,.94,1.03,
.98,1.01,.96,1.04,.99,1.02,.97,1.06,1.0,.95,
1.03,.98,1.01,.96,1.04,1.0,.97,1.02,.99,1.05,
.95,1.01,.98,1.03,1.0,.97,1.04,.99,1.02,.96];
const dFitBlack = [[0.001,.64],[0.002,.885],[0.003,.95],[0.004,.978],[0.005,.99],[0.006,.998],[0.01,1.0],[0.16,1.0]];
const dFitBlue = [[0.001,.35],[0.002,.41],[0.0031,.46],[0.0049,.515],[0.0076,.58],[0.01,.625],[0.0141,.70],[0.0184,.78],[0.0273,.89],[0.034,.935],[0.0485,.97],[0.082,.988],[0.16,.99]];

// ---------- helpers ----------
const FONT = "'Liberation Sans', Arial, Helvetica, sans-serif";
const BLACK = '#000000', BLUE = '#0000ff', RED = '#ff0000';
function pts(ts, ys){ const out=[]; if(!ys) return out; const n=Math.min(ts.length, ys.length); for(let i=0;i<n;i++){ if(ys[i]!==null) out.push({x:ts[i], y:ys[i]}); } return out; }
function curve(pairs){ return pairs.map(p=>({x:p[0], y:p[1]})); }
const near = (a,b)=>Math.abs(a-b)<1e-9;

function scatterSet(data, color){
  return {type:'scatter', data, showLine:false, pointStyle:'rect', pointRadius:2.3, pointHoverRadius:2.3,
    pointBorderWidth:0.8, pointBackgroundColor:color, pointBorderColor:color, backgroundColor:color, borderColor:color};
}
function fitSet(data){
  return {type:'scatter', data, showLine:true, pointRadius:0, pointHoverRadius:0, borderColor:RED, borderWidth:1.3,
    cubicInterpolationMode:'monotone', fill:false};
}

const deco = {
  id:'deco',
  afterDraw(chart, args, o){
    const ctx = chart.ctx, xs = chart.scales.x, ys = chart.scales.y;
    ctx.save();
    ctx.strokeStyle = '#000'; ctx.lineWidth = 2; ctx.lineCap = 'butt';
    xTickValues.forEach(v=>{
      const px = Math.round(xs.getPixelForValue(v));
      if (px < xs.left - 1 || px > xs.right + 1) return;
      const len = xMajorValues.some(m=>near(m,v)) ? 7 : 4;
      ctx.beginPath(); ctx.moveTo(px, xs.top); ctx.lineTo(px, xs.top + len); ctx.stroke();
    });
    yTickValues.forEach(v=>{
      const py = Math.round(ys.getPixelForValue(v));
      const len = yMajorValues.some(m=>near(m,v)) ? 7 : 4;
      ctx.beginPath(); ctx.moveTo(ys.right, py); ctx.lineTo(ys.right - len, py); ctx.stroke();
    });
    ctx.fillStyle = '#000';
    ctx.save();
    ctx.font = 'bold 28px ' + FONT;
    ctx.textAlign = 'center'; ctx.textBaseline = 'alphabetic';
    ctx.translate(o.titleX, o.titleY); ctx.rotate(-Math.PI/2);
    ctx.fillText(yTitle, 0, 0);
    ctx.restore();
    ctx.font = 'bold 39px ' + FONT; ctx.textAlign = 'left'; ctx.textBaseline = 'alphabetic';
    ctx.fillText(o.letter, o.lx, o.ly);
    ctx.restore();
  }
};

function makePanel(id, p){
  const datasets = [fitSet(curve(p.fitBlack)), fitSet(curve(p.fitBlue))];
  const blackPts = pts(tEarly, p.blackEarly).concat(pts(tMid, p.blackMid), pts(tDense, p.blackDense), pts(tLate, p.blackLate), pts(tLateB, p.blackLateB), pts(tLateC, p.blackLateC));
  const bluePts = pts(tEarly, p.blueEarly).concat(pts(tMid, p.blueMid), pts(tDense, p.blueDense), pts(tLate, p.blueLate), pts(tLateB, p.blueLateB), pts(tLateC, p.blueLateC));
  const black = scatterSet(blackPts, BLACK);
  const blue = scatterSet(bluePts, BLUE);
  if (p.blueOnTop) datasets.push(blue, black); else datasets.push(black, blue);
  new Chart(document.getElementById(id), {
    type:'scatter',
    data:{datasets},
    plugins:[deco],
    options:{
      responsive:false, animation:false, devicePixelRatio:1, events:[],
      layout:{padding:{top:p.top, left:0, right:0, bottom:0}},
      plugins:{legend:{display:false}, tooltip:{enabled:false}, title:{display:false},
        deco:{letter:p.letter, lx:p.lx, ly:p.ly, titleX:p.titleX, titleY:p.titleY}},
      scales:{
        x:{type:'logarithmic', position:'bottom', min:0.001, max:0.1595,
          afterBuildTicks:s=>{ s.ticks = xTickValues.map(v=>({value:v})); },
          afterFit:s=>{ s.height = p.xAxisH; },
          ticks:{autoSkip:false, maxRotation:0, minRotation:0, padding:1, color:'#000',
            font:{family:FONT, size:23, weight:'bold'},
            callback:(v)=>{ const i = xMajorValues.findIndex(m=>near(m,v)); return i>=0 ? xTickLabels[i] : ''; }},
          grid:{display:true, drawOnChartArea:false, drawTicks:true, tickLength:6, tickColor:'rgba(0,0,0,0)'},
          border:{display:true, color:'#000', width:2},
          title:{display:true, text:xTitle, color:'#000', font:{family:FONT, size:28, weight:'bold'}, padding:{top:0, bottom:0}}
        },
        y:{type:'linear', position:'left', min:0, max:1.19,
          afterBuildTicks:s=>{ s.ticks = yTickValues.map(v=>({value:v})); },
          afterFit:s=>{ s.width = p.yAxisW; },
          ticks:{autoSkip:false, padding:2, color:'#000', font:{family:FONT, size:23, weight:'bold'},
            callback:(v)=>{ const i = yMajorValues.findIndex(m=>near(m,v)); return i>=0 ? yTickLabels[i] : ''; }},
          grid:{display:true, drawOnChartArea:false, drawTicks:true, tickLength:6, tickColor:'rgba(0,0,0,0)'},
          border:{display:true, color:'#000', width:2},
          title:{display:false}
        }
      }
    }
  });
}

makePanel('cA', {letter:panelLetters[0], lx:121, ly:79, titleX:40, titleY:188, top:15, xAxisH:65, yAxisW:99,
  blackEarly:aBlackEarly, blackMid:aBlackMid, blackDense:aBlackDense, blackLate:aBlackLate, blackLateB:aBlackLateB, blackLateC:aBlackLateC,
  blueEarly:aBlueEarly, blueMid:aBlueMid, blueDense:aBlueDense, blueLate:aBlueLate, blueLateB:aBlueLateB, blueLateC:aBlueLateC,
  fitBlack:aFitBlack, fitBlue:aFitBlue, blueOnTop:false});
makePanel('cB', {letter:panelLetters[1], lx:138, ly:78, titleX:42, titleY:191, top:18, xAxisH:63, yAxisW:101,
  blackEarly:bBlackEarly, blackMid:bBlackMid, blackDense:bBlackDense, blackLate:bBlackLate, blackLateB:bBlackLateB, blackLateC:bBlackLateC,
  blueEarly:bBlueEarly, blueMid:bBlueMid, blueDense:bBlueDense, blueLate:bBlueLate, blueLateB:bBlueLateB, blueLateC:bBlueLateC,
  fitBlack:bFitBlack, fitBlue:bFitBlue, blueOnTop:false});
makePanel('cC', {letter:panelLetters[2], lx:123, ly:65, titleX:36, titleY:190, top:17, xAxisH:60, yAxisW:100,
  blackEarly:cBlackEarly, blackMid:cBlackMid, blackLate:cBlackLate, blackLateB:cBlackLateB, blackLateC:cBlackLateC,
  blueEarly:cBlueEarly, blueMid:cBlueMid, blueLate:cBlueLate, blueLateB:cBlueLateB,
  fitBlack:cFitBlack, fitBlue:cFitBlue, blueOnTop:false});
makePanel('cD', {letter:panelLetters[3], lx:142, ly:65, titleX:38, titleY:191, top:17, xAxisH:60, yAxisW:101,
  blackEarly:dBlackEarly, blackMid:dBlackMid, blackLate:dBlackLate, blackLateB:dBlackLateB,
  blueEarly:dBlueEarly, blueMid:dBlueMid, blueLate:dBlueLate, blueLateB:dBlueLateB, blueLateC:dBlueLateC,
  fitBlack:dFitBlack, fitBlue:dFitBlue, blueOnTop:true});
</script>
</body></html>
